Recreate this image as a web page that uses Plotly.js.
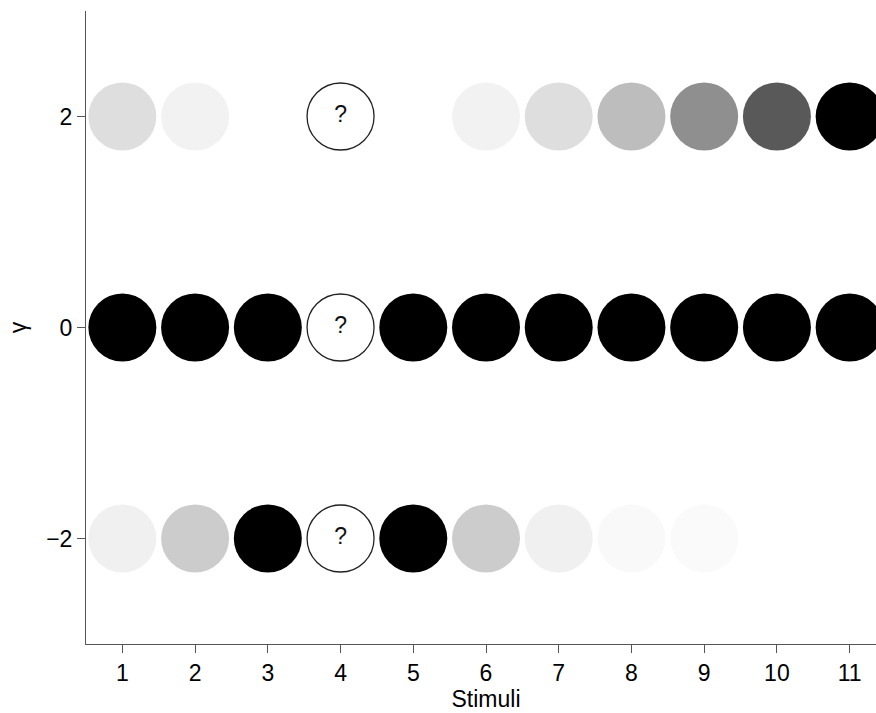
<!DOCTYPE html>
<html>
<head>
<meta charset="utf-8">
<script src="https://cdn.plot.ly/plotly-3.0.1.min.js"></script>
<style>
html,body{margin:0;padding:0;overflow:hidden;background:#fff;}
</style>
</head>
<body>
<div id="chart"></div>
<script>
// Data
const stimuli = [1, 2, 3, 4, 5, 6, 7, 8, 9, 10, 11];
const gammaLevels = [2, 0, -2];
const queryStimulus = 4;
// Darkness (0 = white, 1 = black) per stimulus, null at the query stimulus
const darknessGammaPos2 = [0.13, 0.05, 0, null, 0, 0.05, 0.13, 0.26, 0.44, 0.65, 1];
const darknessGamma0    = [1, 1, 1, null, 1, 1, 1, 1, 1, 1, 1];
const darknessGammaNeg2 = [0.06, 0.2, 1, null, 1, 0.2, 0.06, 0.025, 0.02, 0, 0];
const rows = [darknessGammaPos2, darknessGamma0, darknessGammaNeg2];

const traces = [];
rows.forEach((vals, i) => {
  const xs = [], ys = [], cs = [];
  stimuli.forEach((s, j) => {
    if (vals[j] === null) return;
    xs.push(s); ys.push(gammaLevels[i]); cs.push(vals[j]);
  });
  traces.push({
    type: 'scatter', mode: 'markers', x: xs, y: ys,
    marker: {size: 68, color: cs, cmin: 0, cmax: 1,
             colorscale: [[0, '#ffffff'], [1, '#000000']],
             line: {width: 0}, showscale: false},
    cliponaxis: false, hoverinfo: 'skip', showlegend: false
  });
});
traces.push({
  type: 'scatter', mode: 'markers+text',
  x: gammaLevels.map(() => queryStimulus), y: gammaLevels,
  text: gammaLevels.map(() => '?'), textposition: 'middle center',
  textfont: {family: 'Liberation Sans, Arial, sans-serif', size: 23, color: '#111'},
  marker: {size: 67, color: '#ffffff', line: {width: 1.3, color: '#222'}},
  cliponaxis: false, hoverinfo: 'skip', showlegend: false
});

const font = 'Liberation Sans, Arial, sans-serif';
const layout = {
  width: 886, height: 713,
  margin: {l: 86, r: 0, t: 11, b: 69},
  paper_bgcolor: '#fff', plot_bgcolor: '#fff',
  font: {family: font, size: 23, color: '#000'},
  hovermode: false,
  xaxis: {
    range: [0.5, 11.5], tickvals: stimuli, ticktext: stimuli.map(String),
    showgrid: false, zeroline: false, showline: true, linecolor: '#555', linewidth: 1,
    ticks: 'outside', ticklen: 8, tickcolor: '#555', tickwidth: 1,
    tickfont: {size: 23, family: font, color: '#000'},
    automargin: false,
    title: {text: 'Stimuli', font: {size: 23, family: font, color: '#000'}, standoff: 2}
  },
  yaxis: {
    range: [-3, 3], tickvals: gammaLevels, ticktext: gammaLevels.map(v => v < 0 ? '\u2212' + Math.abs(v) : String(v)),
    showgrid: false, zeroline: false, showline: true, linecolor: '#555', linewidth: 1,
    ticks: 'outside', ticklen: 8, tickcolor: '#555', tickwidth: 1,
    tickfont: {size: 23, family: font, color: '#000'},
    automargin: false,
    title: {text: 'γ', font: {size: 23, family: font, color: '#000'}, standoff: 13}
  }
};
Plotly.newPlot('chart', traces, layout, {displayModeBar: false, staticPlot: true});
</script>
</body>
</html>
